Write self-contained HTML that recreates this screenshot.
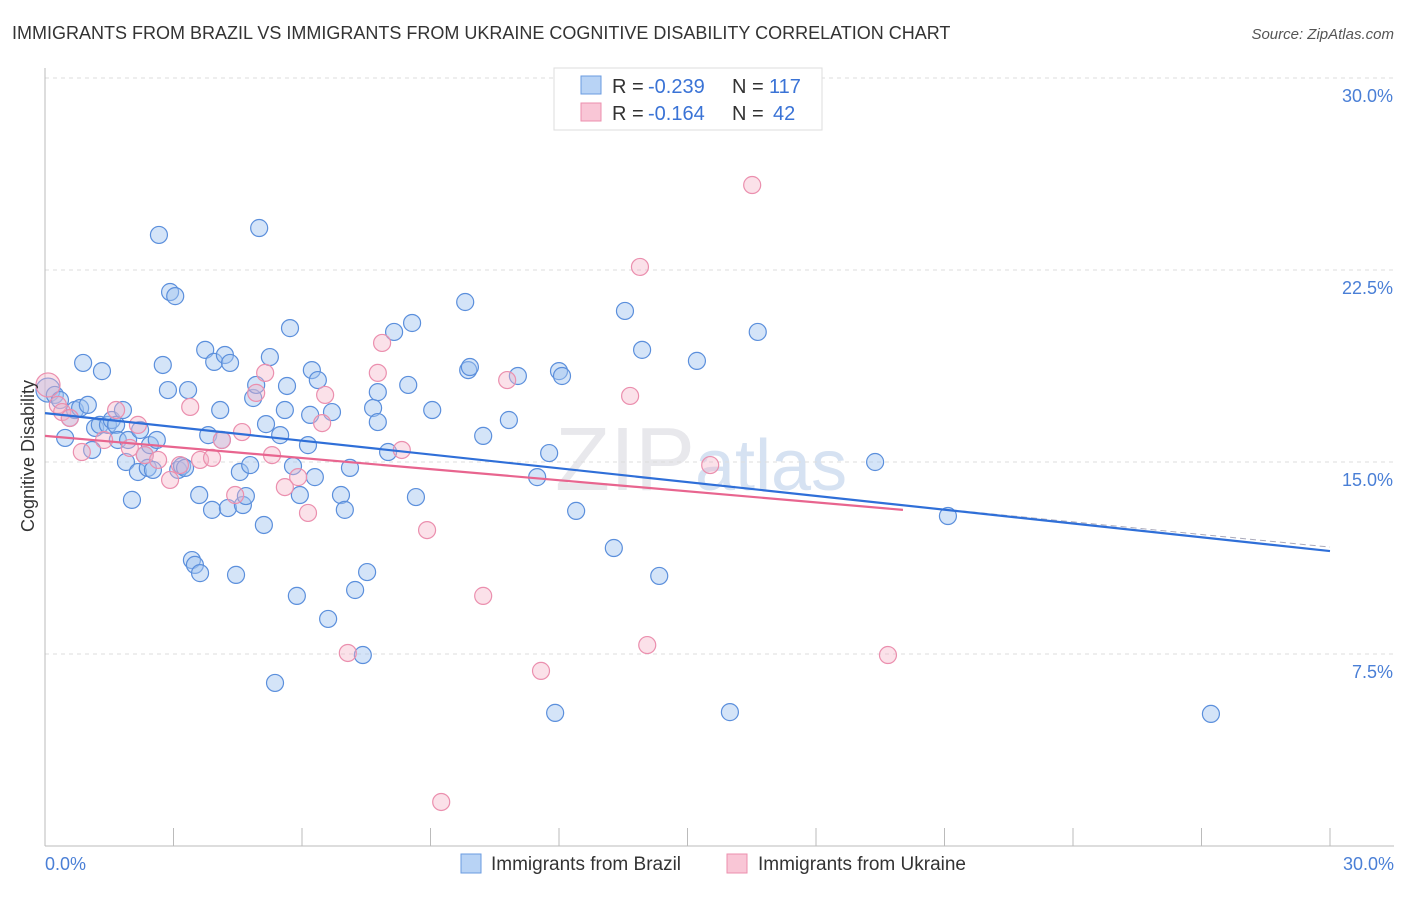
<!DOCTYPE html>
<html><head><meta charset="utf-8"><style>
body{margin:0;background:#fff;font-family:"Liberation Sans",sans-serif;}
svg text{font-family:"Liberation Sans",sans-serif;}
</style></head><body>
<svg id="chart" width="1406" height="892" xmlns="http://www.w3.org/2000/svg">
<text x="12" y="39" font-size="18" fill="#333">IMMIGRANTS FROM BRAZIL VS IMMIGRANTS FROM UKRAINE COGNITIVE DISABILITY CORRELATION CHART</text>
<text x="1394" y="39" font-size="15" fill="#555" font-style="italic" text-anchor="end">Source: ZipAtlas.com</text>
<text x="555" y="490" font-size="90" fill="#e8e8ec" font-family="Liberation Serif">ZIP<tspan fill="#d6e2f2" font-family="Liberation Sans" font-size="72">atlas</tspan></text>
<g id="grid"></g>
<g id="axes"></g>
<g id="pts"></g>
<g id="lines"></g>
<text x="34" y="456" font-size="18" fill="#333" text-anchor="middle" transform="rotate(-90 34 456)">Cognitive Disability</text>
<text x="45" y="870" font-size="18" fill="#4a7fd6">0.0%</text>
<text x="1394" y="870" font-size="18" fill="#4a7fd6" text-anchor="end">30.0%</text>
<g>
<rect x="554" y="68" width="268" height="62" fill="#fff" stroke="#ddd"/>
<rect x="581" y="76" width="20" height="18" fill="#b8d3f5" stroke="#6a9be0"/>
<rect x="581" y="103" width="20" height="18" fill="#f9c6d6" stroke="#ec8fae"/>
<text x="612" y="93" font-size="20" fill="#333">R =</text>
<text x="648" y="93" font-size="20" fill="#3a73d6">-0.239</text>
<text x="732" y="93" font-size="20" fill="#333">N =</text>
<text x="769" y="93" font-size="20" fill="#3a73d6">117</text>
<text x="612" y="120" font-size="20" fill="#333">R =</text>
<text x="648" y="120" font-size="20" fill="#3a73d6">-0.164</text>
<text x="732" y="120" font-size="20" fill="#333">N =</text>
<text x="773" y="120" font-size="20" fill="#3a73d6">42</text>
</g>
<g>
<rect x="461" y="854" width="20" height="19" fill="#b8d3f5" stroke="#6a9be0"/>
<text x="491" y="870" font-size="19" fill="#333">Immigrants from Brazil</text>
<rect x="727" y="854" width="20" height="19" fill="#f9c6d6" stroke="#ec8fae"/>
<text x="758" y="870" font-size="19" fill="#333">Immigrants from Ukraine</text>
</g>
</svg>
<script>
const yTicks=[7.5,15,22.5,30];
const yTickLabels=["7.5%","15.0%","22.5%","30.0%"];
const xTicks=[0,3,6,9,12,15,18,21,24,27,30];
const brazilX=[0.07,0.23,0.35,0.47,0.58,0.70,0.82,0.89,1.00,1.10,1.17,1.28,1.33,1.47,1.56,1.66,1.70,1.82,1.89,1.94,2.03,2.17,2.22,2.33,2.40,2.45,2.52,2.61,2.66,2.75,2.87,2.92,3.04,3.11,3.20,3.27,3.34,3.43,3.50,3.60,3.62,3.74,3.81,3.90,3.95,4.09,4.13,4.20,4.27,4.32,4.46,4.55,4.62,4.69,4.79,4.86,4.93,5.00,5.11,5.16,5.25,5.37,5.49,5.60,5.65,5.72,5.79,5.88,5.95,6.14,6.19,6.23,6.30,6.37,6.61,6.70,6.91,7.00,7.12,7.24,7.42,7.52,7.66,7.77,7.77,8.01,8.15,8.48,8.57,8.66,9.04,9.81,9.88,9.92,10.23,10.83,11.04,11.49,11.77,11.91,12.00,12.07,12.40,13.28,13.54,13.94,14.34,15.22,15.99,16.64,19.38,21.08,27.22];
const brazilY=[17.81,17.62,17.42,15.94,16.72,17.03,17.11,18.87,17.23,15.47,16.33,16.45,18.55,16.45,16.64,16.45,15.86,17.03,15.00,15.86,13.52,14.61,16.25,15.27,14.77,15.66,14.69,15.86,23.87,18.79,17.81,21.64,21.48,14.69,14.84,14.77,17.81,11.17,10.98,13.71,10.66,19.38,16.05,13.13,18.91,17.03,15.86,19.18,13.20,18.87,10.59,14.61,13.32,13.67,14.88,17.50,18.01,24.14,12.54,16.48,19.10,6.37,16.05,17.03,17.97,20.23,14.84,9.77,13.71,15.66,16.84,18.59,14.41,18.20,8.87,16.95,13.71,13.13,14.77,10.00,7.46,10.70,17.11,17.73,16.56,15.39,20.08,18.01,20.43,13.63,17.03,21.25,18.59,18.71,16.02,16.64,18.36,14.41,15.35,5.20,18.55,18.36,13.09,11.64,20.90,19.38,10.55,18.95,5.23,20.08,15.00,12.89,5.16];
const ukraineX=[0.07,0.30,0.40,0.58,0.86,1.38,1.66,1.98,2.17,2.33,2.64,2.92,3.15,3.39,3.62,3.90,4.13,4.44,4.60,4.93,5.14,5.30,5.60,5.91,6.14,6.47,6.54,7.07,7.77,7.87,8.33,8.92,10.23,10.79,11.58,13.66,13.89,14.06,15.53,16.51,19.68,9.25];
const ukraineY=[18.01,17.23,16.95,16.72,15.39,15.86,17.03,15.55,16.45,15.27,15.08,14.30,14.88,17.15,15.08,15.16,15.86,13.71,16.17,17.70,18.48,15.27,14.02,14.41,13.01,16.52,17.62,7.54,18.48,19.65,15.47,12.34,9.77,18.20,6.84,17.58,22.62,7.85,14.88,25.82,7.46,1.72];
const brazilLine=[0,16.91,30,11.52];
const ukraineLine=[0,16.02,20.03,13.13];
const X0=45,X1=1330,Y0=846,YPX=25.6;
const sx=v=>X0+(X1-X0)*v/30, sy=v=>Y0-v*YPX;
const NS="http://www.w3.org/2000/svg";
function mk(tag,attrs,parent){const e=document.createElementNS(NS,tag);for(const k in attrs)e.setAttribute(k,attrs[k]);document.getElementById(parent).appendChild(e);return e;}
yTicks.forEach((t,i)=>{
 const l=mk('line',{x1:X0,x2:1394,y1:sy(t),y2:sy(t),stroke:'#ddd','stroke-dasharray':'4,4'},'grid');
 
 
 const tx=mk('text',{x:1393,y:sy(t)+24,'font-size':18,fill:'#4a7fd6','text-anchor':'end'},'grid');
 tx.textContent=yTickLabels[i];
 
 
});
const ya=mk('line',{x1:X0,x2:X0,y1:68,y2:Y0,stroke:'#bbb'},'axes');


const xa=mk('line',{x1:X0,x2:1394,y1:Y0,y2:Y0,stroke:'#bbb'},'axes');


xTicks.forEach(t=>{
 const l=mk('line',{x1:sx(t),x2:sx(t),y1:828,y2:Y0,stroke:'#bbb'},'axes');
 
 
});
brazilX.forEach((x,i)=>{
 const c=mk('circle',{cx:sx(x),cy:sy(brazilY[i]),r:i===0?12:8.5,fill:'rgba(160,196,240,0.45)',stroke:'#5b8fdc','stroke-width':1.2},'pts');
 
 
});
ukraineX.forEach((x,i)=>{
 const c=mk('circle',{cx:sx(x),cy:sy(ukraineY[i]),r:i===0?12:8.5,fill:'rgba(246,180,200,0.4)',stroke:'#eb8fae','stroke-width':1.2},'pts');
 
 
});
const bd=mk('line',{x1:sx(20),y1:sy(brazilLine[1]+(brazilLine[3]-brazilLine[1])*20/30),x2:sx(30),y2:sy(brazilLine[3])-4,stroke:'#aab','stroke-width':1,'stroke-dasharray':'6,4'},'lines');


const bl=mk('line',{x1:sx(brazilLine[0]),y1:sy(brazilLine[1]),x2:sx(brazilLine[2]),y2:sy(brazilLine[3]),stroke:'#2f6fd8','stroke-width':2.2},'lines');


const ul=mk('line',{x1:sx(ukraineLine[0]),y1:sy(ukraineLine[1]),x2:sx(ukraineLine[2]),y2:sy(ukraineLine[3]),stroke:'#e8658f','stroke-width':2.2},'lines');


</script>
</body></html>
